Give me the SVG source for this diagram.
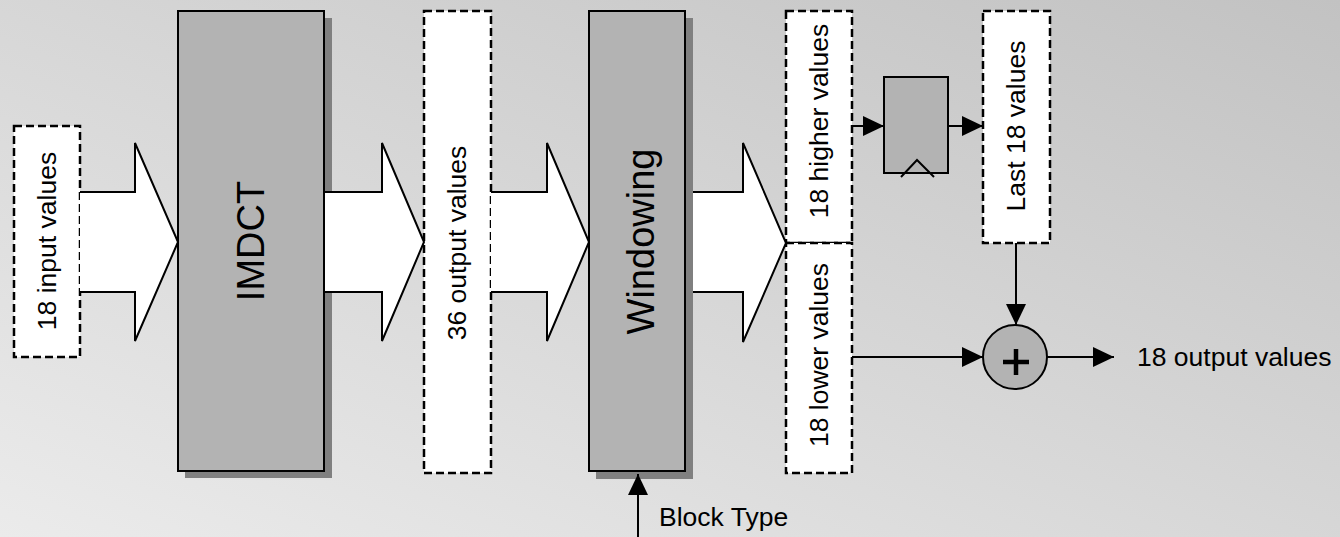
<svg xmlns="http://www.w3.org/2000/svg" width="1340" height="537" viewBox="0 0 1340 537">
<defs>
<linearGradient id="bg" x1="0" y1="1" x2="1" y2="0">
<stop offset="0" stop-color="#ebebeb"/>
<stop offset="1" stop-color="#c2c2c2"/>
</linearGradient>
<marker id="ah" viewBox="0 0 21 20" refX="21" refY="10" markerWidth="21" markerHeight="20" markerUnits="userSpaceOnUse" orient="auto">
<path d="M0,0 L21,10 L0,20 Z" fill="#000"/>
</marker>
</defs>
<style>
.dash{fill:#fff;stroke:#000;stroke-width:2.5;stroke-dasharray:8 4}
.blk{fill:#b3b3b3;stroke:#000;stroke-width:2}
.shd{fill:#808080}
.fat{fill:#fff;stroke:#000;stroke-width:2;stroke-linejoin:miter}
.ln{fill:none;stroke:#000;stroke-width:2}
.t{font-family:"Liberation Sans",Arial,sans-serif;font-size:26.5px;fill:#000}
.big{font-family:"Liberation Sans",Arial,sans-serif;font-size:38px;fill:#000}
</style>
<rect width="1340" height="537" fill="url(#bg)"/>

<g id="input">
<rect class="dash" x="14" y="126" width="66" height="231"/>
<text class="t" transform="translate(56,241) rotate(-90)" text-anchor="middle">18 input values</text>
</g>

<g id="imdct">
<rect class="shd" x="185" y="18" width="147" height="460"/>
<rect class="blk" x="178" y="11" width="146" height="460"/>
<text class="big" transform="translate(264,241) rotate(-90)" text-anchor="middle">IMDCT</text>
</g>

<g id="out36">
<rect class="dash" x="424" y="11" width="67" height="462"/>
<text class="t" transform="translate(466,243) rotate(-90)" text-anchor="middle">36 output values</text>
</g>

<g id="windowing">
<rect class="shd" x="596" y="18" width="97" height="461"/>
<rect class="blk" x="589" y="11" width="96" height="460"/>
<text class="big" transform="translate(654,241.5) rotate(-90)" text-anchor="middle">Windowing</text>
</g>

<g id="higher">
<rect class="dash" x="786" y="11" width="66" height="232"/>
<text class="t" transform="translate(828,121) rotate(-90)" text-anchor="middle">18 higher values</text>
</g>

<g id="lower">
<rect class="dash" x="786" y="243" width="66" height="230"/>
<text class="t" transform="translate(828,355) rotate(-90)" text-anchor="middle">18 lower values</text>
</g>

<g id="register">
<rect class="blk" x="884" y="77" width="64" height="96"/>
<polyline class="ln" points="901,177 917,160 934,177"/>
</g>

<g id="last18">
<rect class="dash" x="983" y="11" width="67" height="232"/>
<text class="t" transform="translate(1025,126) rotate(-90)" text-anchor="middle">Last 18 values</text>
</g>

<g id="adder">
<circle cx="1015" cy="357" r="32" fill="#b3b3b3" stroke="#000" stroke-width="2"/>
<path d="M1003,362 H1029 M1016,349 V375" stroke="#000" stroke-width="4.5" fill="none"/>
</g>

<g id="output-label">
<text class="t" x="1137" y="366">18 output values</text>
</g>

<g id="blocktype-label">
<text class="t" x="659" y="526">Block Type</text>
</g>

<g id="connectors">
<path class="fat" d="M80,192 H135 V143 L178,242 L135,341 V292 H80"/>
<path class="fat" d="M325,192 H382 V143 L424,242 L382,341 V292 H325"/>
<path class="fat" d="M491,192 H547 V143 L589,242 L547,341 V292 H491"/>
<path class="fat" d="M693,192 H743 V143 L786,243 L743,342 V292 H693"/>
<line class="ln" x1="852" y1="126" x2="884" y2="126" marker-end="url(#ah)"/>
<line class="ln" x1="948" y1="126" x2="983" y2="126" marker-end="url(#ah)"/>
<line class="ln" x1="1016" y1="243" x2="1016" y2="325" marker-end="url(#ah)"/>
<line class="ln" x1="852" y1="357" x2="983" y2="357" marker-end="url(#ah)"/>
<line class="ln" x1="1047" y1="357" x2="1114" y2="357" marker-end="url(#ah)"/>
<line class="ln" x1="638" y1="537" x2="638" y2="474" marker-end="url(#ah)"/>
</g>
</svg>
